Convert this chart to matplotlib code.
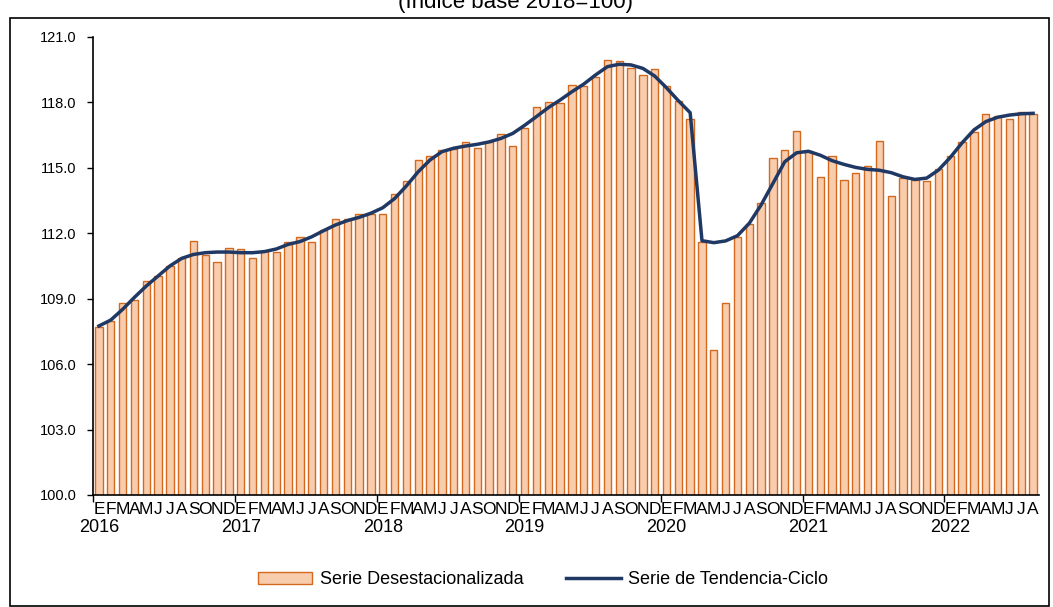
import numpy as np
import matplotlib.pyplot as plt
from matplotlib.patches import Rectangle
from matplotlib.transforms import blended_transform_factory

plt.rcParams['font.family'] = ['Liberation Sans', 'DejaVu Sans']

# Data
years = ["2016", "2017", "2018", "2019", "2020", "2021", "2022"]
month_letters = ["E", "F", "M", "A", "M", "J", "J", "A", "S", "O", "N", "D"]

desestacionalizada = [
    107.69, 107.96, 108.80, 108.94, 109.80, 110.04, 110.50, 110.85, 111.65, 110.99, 110.67, 111.33,
    111.27, 110.85, 111.20, 111.13, 111.59, 111.82, 111.62, 112.15, 112.67, 112.64, 112.87, 112.87,
    112.90, 113.82, 114.38, 115.38, 115.53, 115.80, 115.88, 116.17, 115.92, 116.20, 116.57, 116.02,
    116.81, 117.79, 118.02, 117.96, 118.78, 118.77, 119.17, 119.96, 119.88, 119.59, 119.27, 119.55,
    118.74, 118.07, 117.23, 111.62, 106.66, 108.79, 111.84, 112.44, 113.40, 115.44, 115.80, 116.70,
    115.77, 114.57, 115.56, 114.46, 114.78, 115.08, 116.22, 113.72, 114.55, 114.44, 114.40, 114.93,
    115.53, 116.20, 116.66, 117.47, 117.39, 117.25, 117.57, 117.45,
]

tendencia = [
    107.75, 108.02, 108.51, 109.06, 109.58, 110.04, 110.50, 110.85, 111.03, 111.11, 111.14, 111.14,
    111.11, 111.11, 111.16, 111.28, 111.49, 111.62, 111.84, 112.12, 112.38, 112.58, 112.73, 112.92,
    113.17, 113.59, 114.17, 114.82, 115.36, 115.74, 115.90, 116.00, 116.08, 116.19, 116.35, 116.58,
    116.95, 117.35, 117.76, 118.11, 118.49, 118.84, 119.26, 119.64, 119.75, 119.72, 119.56, 119.21,
    118.67, 118.08, 117.53, 111.66, 111.57, 111.65, 111.89, 112.46, 113.30, 114.29, 115.28, 115.69,
    115.76, 115.58, 115.33, 115.16, 115.02, 114.93, 114.89, 114.78, 114.59, 114.47, 114.53, 114.90,
    115.48, 116.15, 116.74, 117.12, 117.32, 117.42, 117.48, 117.50,
]

n = len(desestacionalizada)
x = np.arange(n)
labels = [month_letters[i % 12] for i in range(n)]

W, H = 1053, 607
fig = plt.figure(figsize=(W / 100, H / 100), dpi=100)
ax = fig.add_axes([93 / W, 1 - 495 / H, (1039 - 93) / W, (495 - 37) / H])

bars = ax.bar(x, desestacionalizada, width=0.62, color="#F8CDAE", edgecolor="#D2691E",
              linewidth=1.0, label="Serie Desestacionalizada", zorder=2)
line, = ax.plot(x, tendencia, color="#203864", linewidth=2.5,
                label="Serie de Tendencia-Ciclo", zorder=3)

ax.set_xlim(-0.5, n - 0.5)
ax.set_ylim(100, 121)
yt = np.arange(100, 121.1, 3)
ax.set_yticks(yt)
ax.set_yticklabels([f"{v:.1f}" for v in yt], fontsize=10.5)

# year boundary ticks + month letters
ax.set_xticks(np.arange(-0.5, n, 12))
ax.set_xticklabels([])
ax.set_xticks(x, labels=labels, minor=True)
ax.tick_params(axis="x", which="major", length=5, width=1, direction="out")
ax.tick_params(axis="x", which="minor", length=0, labelsize=12.5, pad=5)
ax.tick_params(axis="y", length=4, width=1, direction="out", pad=8)

trans = blended_transform_factory(ax.transData, ax.transAxes)
for k, yr in enumerate(years):
    ax.text(12 * k, -0.052, yr, transform=trans, ha="center", va="top", fontsize=13)

for s in ["top", "right"]:
    ax.spines[s].set_visible(False)
ax.spines["left"].set_linewidth(1.2)
ax.spines["bottom"].set_linewidth(1.2)

fig.legend(handles=[bars, line], loc="center", bbox_to_anchor=(543 / W, 1 - 580 / H), ncol=2,
           frameon=False, fontsize=13, handlelength=3.0, handleheight=0.6,
           handletextpad=0.4, columnspacing=2.4)

# outer frame and clipped subtitle
fig.patches.append(Rectangle((10 / W, 1 - 606 / H), (1049 - 10) / W, (606 - 18) / H,
                             transform=fig.transFigure, fill=False, edgecolor="black",
                             linewidth=1.2))
fig.text(515 / W, 1 - 8 / H, "(Índice base 2018=100)", ha="center", va="baseline", fontsize=16)

fig.savefig("out.png", dpi=100)
